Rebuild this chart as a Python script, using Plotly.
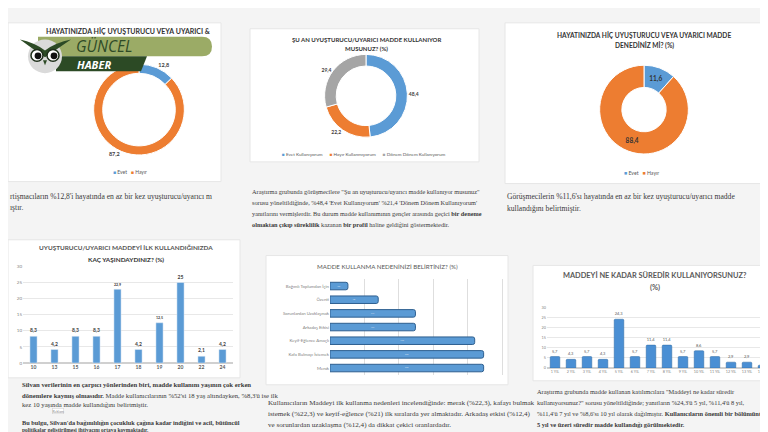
import plotly.graph_objects as go

W, H = 768, 432


def X(p):
    return p / W


def Y(p):
    return 1 - p / H


# ---------------- data ----------------
q1_labels = ["Evet", "Hayır"]
q1_values = [12.8, 87.2]

q2_labels = ["Evet Kullanıyorum", "Hayır Kullanmıyorum", "Dönem Dönem Kullanıyorum"]
q2_values = [48.4, 22.2, 29.4]

q3_labels = ["Evet", "Hayır"]
q3_values = [11.6, 88.4]

age_labels = ["10", "13", "15", "16", "17", "18", "19", "20", "22", "24"]
age_values = [8.3, 4.2, 8.3, 8.3, 22.9, 4.2, 12.5, 25, 2.1, 4.2]

reason_labels = ["Bağımlı Toplumdan İçin", "Özenti", "Sorunlardan Uzaklaşmak",
                 "Arkadaş Etkisi", "Keyif-Eğlence Amaçlı", "Kafa Bulmayı İstemek", "Merak"]
reason_values = [2.6, 7.0, 12.4, 12.4, 21.0, 22.3, 22.3]

dur_labels = ["1 YIL", "2 YIL", "3 YIL", "4 YIL", "5 YIL", "6 YIL", "7 YIL", "8 YIL",
              "9 YIL", "10 YIL", "11 YIL", "12 YIL", "13 YIL", "15 YIL"]
dur_values = [5.7, 4.3, 5.7, 4.3, 24.3, 5.7, 11.4, 11.4, 5.7, 8.6, 5.7, 2.9, 2.9, 1.4]

BLUE, ORANGE, GRAY = "#5b9bd5", "#ed7d31", "#a5a5a5"
q1_colors = [BLUE, ORANGE]
q2_colors = [BLUE, ORANGE, GRAY]
q3_colors = [BLUE, ORANGE]


def tr(v):
    return ("%g" % v).replace(".", ",")


def tr1(v):
    return f"{v:.1f}".replace(".", ",")


fig = go.Figure()

# ---------------- donuts ----------------
fig.add_trace(go.Pie(
    labels=q1_labels, values=q1_values, hole=0.8, sort=False, direction="clockwise",
    rotation=0, marker=dict(colors=q1_colors, line=dict(color="white", width=1)),
    text=[tr1(v) for v in q1_values], textinfo="text", textposition="outside",
    textfont=dict(size=5.5, color="#404040", family="Lato", weight="bold"),
    domain=dict(x=[X(85), X(177)], y=[Y(146), Y(54)]), showlegend=False,
    hoverinfo="label+value"))

fig.add_trace(go.Pie(
    labels=q2_labels, values=q2_values, hole=0.72, sort=False, direction="clockwise",
    rotation=0, marker=dict(colors=q2_colors, line=dict(color="white", width=1)),
    text=[tr1(v) for v in q2_values], textinfo="text", textposition="outside",
    textfont=dict(size=5, color="#404040", family="Lato", weight="bold"),
    domain=dict(x=[X(316), X(400)], y=[Y(128), Y(44)]), showlegend=False,
    hoverinfo="label+value"))

fig.add_trace(go.Pie(
    labels=q3_labels, values=q3_values, hole=0.5, sort=False, direction="clockwise",
    rotation=0, marker=dict(colors=q3_colors, line=dict(color="white", width=1)),
    text=[tr1(v) for v in q3_values], textinfo="text", textposition="inside",
    insidetextorientation="horizontal",
    textfont=dict(size=6.5, color="#333333", family="Lato", weight="bold"),
    domain=dict(x=[X(591), X(681)], y=[Y(145), Y(55)]), showlegend=False,
    hoverinfo="label+value"))

# ---------------- bar charts ----------------
fig.add_trace(go.Bar(
    x=age_labels, y=age_values, width=0.34, marker=dict(color=BLUE),
    text=[tr(v) for v in age_values], textposition="outside", cliponaxis=False,
    textfont=dict(size=5, color="#404040", family="Lato", weight="bold"),
    xaxis="x", yaxis="y", showlegend=False))

fig.add_trace(go.Bar(
    x=reason_values, y=reason_labels, orientation="h", width=0.55,
    marker=dict(color=BLUE, line=dict(color="#2e5f8f", width=1), cornerradius=2),
    text=[tr1(v) + "%" for v in reason_values], textposition="inside",
    insidetextanchor="middle", textfont=dict(size=4, color="#e3eef8", family="Lato"),
    xaxis="x2", yaxis="y2", showlegend=False))

fig.add_trace(go.Bar(
    x=dur_labels, y=dur_values, width=0.6,
    marker=dict(color="#4a8fd4", line=dict(color="#2f6aa3", width=0.5), cornerradius=1),
    text=[tr(v) for v in dur_values], textposition="outside", cliponaxis=False,
    textfont=dict(size=4, color="#595959", family="Lato"),
    xaxis="x3", yaxis="y3", showlegend=False))

# ---------------- panels & logo shapes ----------------
shapes = []
for (x0, y0, x1, y1) in [(0, 12, 213, 173), (242, 18, 471, 153), (497, 12, 768, 175),
                         (0, 232, 232, 372), (258, 248, 500, 379), (525, 258, 768, 375)]:
    shapes.append(dict(type="rect", xref="paper", yref="paper", x0=X(x0), x1=X(x1),
                       y0=Y(y1), y1=Y(y0), fillcolor="#ffffff",
                       line=dict(color="#e6e6e6", width=1), layer="below"))


def path(cmds):
    out = []
    for c in cmds:
        if c[0] == "Z":
            out.append("Z")
        else:
            pts = " ".join(f"{X(p[0]):.5f},{Y(p[1]):.5f}" for p in c[1:])
            out.append(f"{c[0]} {pts}")
    return " ".join(out)


def circ(cx, cy, r, fill, line_color=None, lw=0):
    return dict(type="circle", xref="paper", yref="paper", x0=X(cx - r), x1=X(cx + r),
                y0=Y(cy + r), y1=Y(cy - r), fillcolor=fill,
                line=dict(color=line_color or fill, width=lw), layer="above")


# light green band
shapes.append(dict(type="path", xref="paper", yref="paper", layer="above",
                   path=path([("M", (30, 26)), ("L", (194, 26)), ("Q", (204, 26), (204, 36)),
                              ("Q", (204, 46), (194, 46)), ("L", (30, 46)), ("Z",)]),
                   fillcolor="#9bab66", line=dict(width=0)))
# dark green band
shapes.append(dict(type="path", xref="paper", yref="paper", layer="above",
                   path=path([("M", (48, 46)), ("L", (139, 46)), ("L", (133, 61)),
                              ("L", (48, 61)), ("Z",)]),
                   fillcolor="#2c4a25", line=dict(width=0)))
# owl
shapes.append(circ(37, 46, 17, "#dadada"))
shapes.append(dict(type="path", xref="paper", yref="paper", layer="above",
                   path=path([("M", (12, 29)), ("Q", (26, 32), (37, 40)), ("Q", (48, 32), (63, 29)),
                              ("Q", (50, 38), (37, 47)), ("Q", (24, 38), (12, 29)), ("Z",)]),
                   fillcolor="#2c4a25", line=dict(width=0)))
shapes.append(circ(29, 45, 6, "#ffffff", "#1e2e1a", 1.5))
shapes.append(circ(45, 45, 6, "#ffffff", "#1e2e1a", 1.5))
shapes.append(circ(30, 45.5, 3.4, "#111111"))
shapes.append(circ(46, 45.5, 3.4, "#111111"))
shapes.append(dict(type="path", xref="paper", yref="paper", layer="above",
                   path=path([("M", (35, 50)), ("L", (39, 50)), ("L", (37, 55)), ("Z",)]),
                   fillcolor="#2c4a25", line=dict(width=0)))

# ---------------- annotations ----------------
ann = []


def T(text, x, y, size, color="#404040", family="Lato", xanchor="center", weight="normal",
      style="normal", **kw):
    ann.append(dict(text=text, x=X(x), y=Y(y), xref="paper", yref="paper", showarrow=False,
                    xanchor=xanchor, yanchor="middle",
                    font=dict(size=size, color=color, family=family, weight=weight, style=style),
                    **kw))


def legend_text(labels, colors, gap="&nbsp;&nbsp;&nbsp;"):
    parts = [f"<span style='color:{c}'>■</span> {l}" for l, c in zip(labels, colors)]
    return gap.join(parts)


# legends (text legends, small like the source)
T(legend_text(q1_labels, q1_colors), 122, 163, 5, "#595959")
T(legend_text(q2_labels, q2_colors, "&nbsp;&nbsp;&nbsp;&nbsp;&nbsp;&nbsp;"), 356, 145, 4.6, "#595959")
T(legend_text(q3_labels, q3_colors), 633, 164, 5.2, "#595959")

# chart titles
T("HAYATINIZDA HİÇ UYUŞTURUCU VEYA UYARICI &", 120, 20, 7, "#333333", weight="bold")
T("ŞU AN UYUŞTURUCU/UYARICI MADDE KULLANIYOR", 358, 29, 6, "#333333", weight="bold")
T("MUSUNUZ? (%)", 358, 38, 6, "#333333", weight="bold")
T("HAYATINIZDA HİÇ UYUŞTURUCU VEYA UYARICI MADDE", 636, 24, 6.6, "#333333", weight="bold")
T("DENEDİNİZ Mİ? (%)", 636, 35, 6.6, "#333333", weight="bold")
T("UYUŞTURUCU/UYARICI MADDEYİ İLK KULLANDIĞINIZDA", 118, 240, 6.4, "#555555", weight="bold")
T("KAÇ YAŞINDAYDINIZ? (%)", 118, 252, 6.4, "#333333", weight="bold")
T("MADDE KULLANMA NEDENİNİZİ BELİRTİNİZ? (%)", 379, 259, 6.2, "#595959")
T("MADDEYİ NE KADAR SÜREDİR KULLANIYORSUNUZ?", 647, 268, 7.4, "#595959", weight="bold")
T("(%)", 647, 280, 7.4, "#595959", weight="bold")

# logo text
T("GÜNCEL", 66, 35.5, 15.5, "#2e4a26", family="Open Sans", xanchor="left", style="italic")
T("HABER", 67, 54.5, 11, "#ffffff", family="Open Sans", xanchor="left", weight="bold",
  style="italic")

# body text paragraphs
SERIF = "Liberation Serif"
para = [
    (0, 188, 7.6, "rtişmacıların %12,8'i hayatında en az bir kez uyuşturucu/uyarıcı m"),
    (0, 199, 7.6, "ıştır."),
    (242, 183, 6.3, "Araştırma grubunda görüşmecilere \"Şu an uyuşturucu/uyarıcı madde kullanıyor musunuz\""),
    (242, 194, 6.3, "sorusu yöneltildiğinde, %48,4 'Evet Kullanıyorum' %21,4 'Dönem Dönem Kullanıyorum'"),
    (242, 205, 6.3, "yanıtlarını vermişlerdir. Bu durum madde kullanımının gençler arasında geçici <b>bir deneme</b>"),
    (242, 216, 6.3, "<b>olmaktan çıkıp süreklilik</b> kazanan <b>bir profil</b> haline geldiğini göstermektedir."),
    (497, 188, 7.6, "Görüşmecilerin %11,6'sı hayatında en az bir kez uyuşturucu/uyarıcı madde"),
    (497, 200, 7.6, "kullandığını belirtmiştir."),
    (12, 379, 6.7, "<b>Silvan verilerinin en çarpıcı yönlerinden biri, madde kullanım yaşının çok erken</b>"),
    (12, 389.5, 6.7, "<b>dönemlere kaymış olmasıdır.</b> Madde kullanıcılarının %52'si 18 yaş altındayken, %8,3'ü ise ilk"),
    (12, 399.5, 6.7, "kez 10 yaşında madde kullandığını belirtmiştir."),
    (12, 417.5, 6.3, "<b>Bu bulgu, Silvan'da bağımlılığın çocukluk çağına kadar indiğini ve acil, bütüncül</b>"),
    (12, 425, 5.4, "<b>politikalar geliştirilmesi ihtiyacını ortaya koymaktadır.</b>"),
    (258, 398, 7.1, "Kullanıcıların Maddeyi ilk kullanma nedenleri incelendiğinde: merak (%22,3), kafayı bulmak"),
    (258, 409, 7.1, "istemek (%22,3) ve keyif-eğlence (%21) ilk sıralarda yer almaktadır. Arkadaş etkisi (%12,4)"),
    (258, 420, 7.1, "ve sorunlardan uzaklaşma (%12,4) da dikkat çekici oranlardadır."),
    (527, 386, 6.4, "Araştırma grubunda madde kullanan katılımcılara \"Maddeyi ne kadar süredir"),
    (527, 397, 6.4, "kullanıyorsunuz?\" sorusu yöneltildiğinde; yanıtların %24,3'ü 5 yıl, %11,4'ü 8 yıl,"),
    (527, 408, 6.4, "%11,4'ü 7 yıl ve %8,6'sı 10 yıl olarak dağılmıştır. <b>Kullanıcıların önemli bir bölümünün</b>"),
    (527, 419, 6.4, "<b>5 yıl ve üzeri süredir madde kullandığı görülmektedir.</b>"),
]
for (x, y, s, t) in para:
    T(t, x, y, s, "#3a3a3a", family=SERIF, xanchor="left")

ann.append(dict(text="Reklam", x=X(44), y=Y(408.5), xref="paper", yref="paper", showarrow=False,
                font=dict(size=3.6, color="#888888", family="Lato"), bordercolor="#cccccc",
                borderwidth=0.5, borderpad=0, bgcolor="#ffffff"))

fig.update_layout(
    width=W, height=H, margin=dict(l=0, r=0, t=0, b=0),
    paper_bgcolor="#f4f4f4", plot_bgcolor="rgba(0,0,0,0)",
    separators=",.", shapes=shapes, annotations=ann, showlegend=False,
    xaxis=dict(domain=[X(15), X(225)], anchor="y", type="category", showgrid=False,
               showline=False, ticks="", tickfont=dict(size=5, color="#595959", family="Lato",
                                                         weight="bold")),
    yaxis=dict(domain=[Y(357), Y(259)], anchor="x", range=[0, 30], dtick=5,
               gridcolor="#e8e8e8", gridwidth=0.7, zeroline=True, zerolinecolor="#d0d0d0",
               showline=False, ticks="", tickfont=dict(size=4.5, color="#7f7f7f", family="Lato")),
    xaxis2=dict(domain=[X(322), X(497)], anchor="y2", range=[0, 25.4], dtick=5,
                showticklabels=False, gridcolor="#dedede", zeroline=False, showline=False),
    yaxis2=dict(domain=[Y(369), Y(272)], anchor="x2", type="category", autorange="reversed",
                showgrid=False, ticks="", showline=False,
                tickfont=dict(size=4.3, color="#7f7f7f", family="Lato")),
    xaxis3=dict(domain=[X(539), X(763)], anchor="y3", type="category", showgrid=False,
                showline=False, ticks="", tickfont=dict(size=3.8, color="#7f7f7f", family="Lato")),
    yaxis3=dict(domain=[Y(362), Y(301)], anchor="x3", range=[0, 30], dtick=5,
                gridcolor="#e8e8e8", gridwidth=0.7, zeroline=True, zerolinecolor="#d0d0d0",
                showline=False, ticks="", tickfont=dict(size=3.8, color="#7f7f7f", family="Lato")),
)

fig.write_html("out.html")
